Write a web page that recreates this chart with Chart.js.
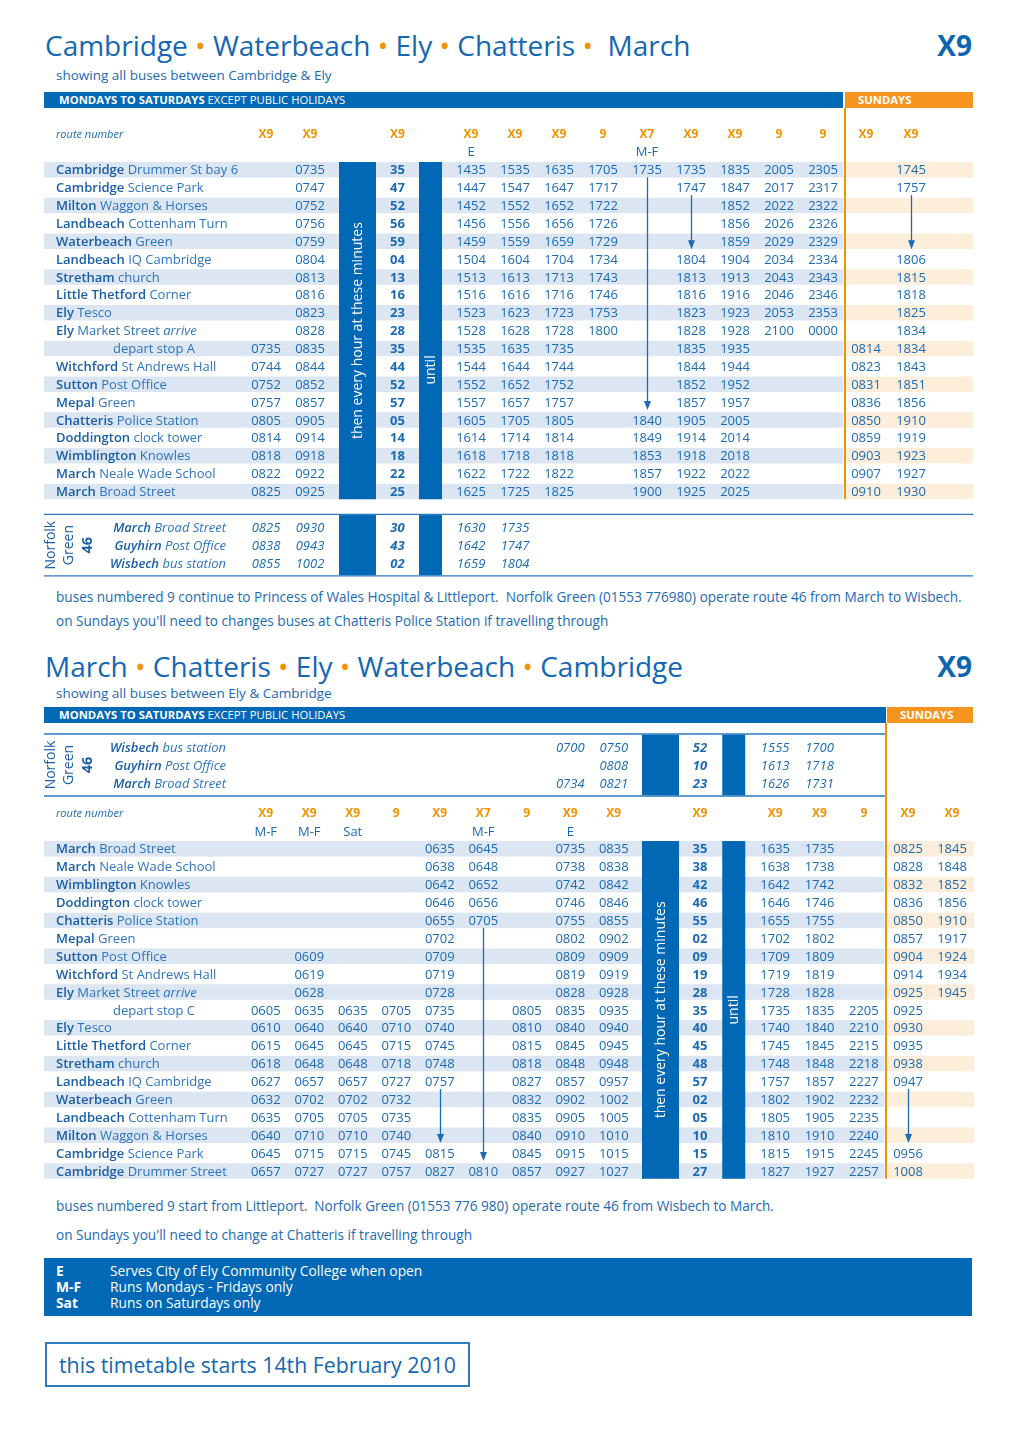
<!DOCTYPE html>
<html lang="en">
<head>
<meta charset="utf-8">
<title>X9 Cambridge – Waterbeach – Ely – Chatteris – March</title>
<script src="https://cdn.jsdelivr.net/npm/chart.js@4.4.1/dist/chart.umd.min.js"></script>
<style>
  html, body { margin:0; padding:0; background:#fff; }
  body { position:relative; width:1020px; height:1442px; overflow:hidden; font-family:"Open Sans", sans-serif; color:#1b6ab4; }
  .t { position:absolute; white-space:nowrap; line-height:1; }
  .title { font-size:28px; left:45px; color:#1467b2; }
  .dot { color:#f39200; }
  .rt { font-size:28px; font-weight:700; right:48px; color:#0d64b0; }
  .sub { font-size:13.5px; left:56px; }
  .band { position:absolute; height:16px; line-height:16px; font-size:11.3px; color:#fff; white-space:nowrap; box-sizing:border-box; }
  .mon { background:#0068b4; left:44px; padding-left:15px; }
  .mon b { font-weight:700; }
  .sunb { background:#f7941d; font-weight:700; padding-left:13px; }
  .fn { font-size:13.6px; left:56px; }
  canvas { position:absolute; left:0; }
  .legend { position:absolute; left:44px; top:1258px; width:928px; height:58px; background:#0068b4; color:#fff; font-size:13.8px; }
  .legend div { position:absolute; white-space:nowrap; line-height:1; }
  .legend .k { font-weight:700; left:12px; }
  .legend .v { left:66px; }
  .date { position:absolute; left:45px; top:1342px; width:425px; height:45px; box-sizing:border-box; border:2px solid #2f7cc2; }
  .datet { font-size:21.3px; left:59px; color:#1467b2; }
</style>
</head>
<body>

<div class="t title" style="top:31px">Cambridge <span class="dot">•</span> Waterbeach <span class="dot">•</span> Ely <span class="dot">•</span> Chatteris <span class="dot">•</span>&nbsp; March</div>
<div class="t rt" style="top:31px">X9</div>
<div class="t sub" style="top:68.5px">showing all buses between Cambridge &amp; Ely</div>
<div class="band mon" style="top:92px;width:799px"><b>MONDAYS TO SATURDAYS</b> EXCEPT PUBLIC HOLIDAYS</div>
<div class="band sunb" style="top:92px;left:845px;width:128px">SUNDAYS</div>
<canvas id="up" width="1020" height="472" style="top:108px;width:1020px;height:472px"></canvas>
<div class="t fn" style="top:589.9px">buses numbered 9 continue to Princess of Wales Hospital &amp; Littleport.&nbsp; Norfolk Green (01553 776980) operate route 46 from March to Wisbech.</div>
<div class="t fn" style="top:613.9px">on Sundays you'll need to changes buses at Chatteris Police Station if travelling through</div>

<div class="t title" style="top:652.1px">March <span class="dot">•</span> Chatteris <span class="dot">•</span> Ely <span class="dot">•</span> Waterbeach <span class="dot">•</span> Cambridge</div>
<div class="t rt" style="top:652.1px">X9</div>
<div class="t sub" style="top:686.5px">showing all buses between Ely &amp; Cambridge</div>
<div class="band mon" style="top:707px;width:842px"><b>MONDAYS TO SATURDAYS</b> EXCEPT PUBLIC HOLIDAYS</div>
<div class="band sunb" style="top:707px;left:887px;width:86px">SUNDAYS</div>
<canvas id="dnLink" width="1020" height="80" style="top:723px;width:1020px;height:80px"></canvas>
<canvas id="dn" width="1020" height="382" style="top:803px;width:1020px;height:382px"></canvas>
<div class="t fn" style="top:1198.9px">buses numbered 9 start from Littleport.&nbsp; Norfolk Green (01553 776 980) operate route 46 from Wisbech to March.</div>
<div class="t fn" style="top:1227.9px">on Sundays you'll need to change at Chatteris if travelling through</div>

<div class="legend">
  <div class="k" style="top:5.75px">E</div><div class="v" style="top:5.75px">Serves City of Ely Community College when open</div>
  <div class="k" style="top:22.45px">M-F</div><div class="v" style="top:22.45px">Runs Mondays - Fridays only</div>
  <div class="k" style="top:38.05px">Sat</div><div class="v" style="top:38.05px">Runs on Saturdays only</div>
</div>
<div class="date"></div>
<div class="t datet" style="top:1354.4px">this timetable starts 14th February 2010</div>

<script>
// ===================== DATA =====================
// --- Cambridge -> March (Mondays to Saturdays + Sundays) ---
const upRoutes = ['X9','X9','X9','X9','X9','X9','9','X7','X9','X9','9','9','X9','X9'];
const upNotes  = ['','','','E','','','','M-F','','','','','',''];
const upTowns  = ['Cambridge','Cambridge','Milton','Landbeach','Waterbeach','Landbeach','Stretham','Little Thetford','Ely','Ely','','Witchford','Sutton','Mepal','Chatteris','Doddington','Wimblington','March','March'];
const upPlaces = ['Drummer St bay 6','Science Park','Waggon & Horses','Cottenham Turn','Green','IQ Cambridge','church','Corner','Tesco','Market Street','depart stop A','St Andrews Hall','Post Office','Green','Police Station','clock tower','Knowles','Neale Wade School','Broad Street'];
const upSuffix = ['','','','','','','','','','arrive','','','','','','','','',''];
const upTimes = [
 ['','0735','35','1435','1535','1635','1705','1735','1735','1835','2005','2305','','1745'],
 ['','0747','47','1447','1547','1647','1717','','1747','1847','2017','2317','','1757'],
 ['','0752','52','1452','1552','1652','1722','','','1852','2022','2322','',''],
 ['','0756','56','1456','1556','1656','1726','','','1856','2026','2326','',''],
 ['','0759','59','1459','1559','1659','1729','','','1859','2029','2329','',''],
 ['','0804','04','1504','1604','1704','1734','','1804','1904','2034','2334','','1806'],
 ['','0813','13','1513','1613','1713','1743','','1813','1913','2043','2343','','1815'],
 ['','0816','16','1516','1616','1716','1746','','1816','1916','2046','2346','','1818'],
 ['','0823','23','1523','1623','1723','1753','','1823','1923','2053','2353','','1825'],
 ['','0828','28','1528','1628','1728','1800','','1828','1928','2100','0000','','1834'],
 ['0735','0835','35','1535','1635','1735','','','1835','1935','','','0814','1834'],
 ['0744','0844','44','1544','1644','1744','','','1844','1944','','','0823','1843'],
 ['0752','0852','52','1552','1652','1752','','','1852','1952','','','0831','1851'],
 ['0757','0857','57','1557','1657','1757','','','1857','1957','','','0836','1856'],
 ['0805','0905','05','1605','1705','1805','','1840','1905','2005','','','0850','1910'],
 ['0814','0914','14','1614','1714','1814','','1849','1914','2014','','','0859','1919'],
 ['0818','0918','18','1618','1718','1818','','1853','1918','2018','','','0903','1923'],
 ['0822','0922','22','1622','1722','1822','','1857','1922','2022','','','0907','1927'],
 ['0825','0925','25','1625','1725','1825','','1900','1925','2025','','','0910','1930']
];
// Norfolk Green route 46 connection, March -> Wisbech (columns 0..4 of the table above)
const upLinkTowns  = ['March','Guyhirn','Wisbech'];
const upLinkPlaces = ['Broad Street','Post Office','bus station'];
const upLinkCols   = [0,1,2,3,4];
const upLinkTimes  = [
 ['0825','0930','30','1630','1735'],
 ['0838','0943','43','1642','1747'],
 ['0855','1002','02','1659','1804']
];
// "runs through without stopping" arrows: [column, from stop, to stop]
const upArrows = [[7,0,14],[8,1,5],[13,1,5]];

// --- March -> Cambridge ---
const dnRoutes = ['X9','X9','X9','9','X9','X7','9','X9','X9','X9','X9','X9','9','X9','X9'];
const dnNotes  = ['M-F','M-F','Sat','','','M-F','','E','','','','','','',''];
const dnTowns  = ['March','March','Wimblington','Doddington','Chatteris','Mepal','Sutton','Witchford','Ely','','Ely','Little Thetford','Stretham','Landbeach','Waterbeach','Landbeach','Milton','Cambridge','Cambridge'];
const dnPlaces = ['Broad Street','Neale Wade School','Knowles','clock tower','Police Station','Green','Post Office','St Andrews Hall','Market Street','depart stop C','Tesco','Corner','church','IQ Cambridge','Green','Cottenham Turn','Waggon & Horses','Science Park','Drummer Street'];
const dnSuffix = ['','','','','','','','','arrive','','','','','','','','','',''];
const dnTimes = [
 ['','','','','0635','0645','','0735','0835','35','1635','1735','','0825','1845'],
 ['','','','','0638','0648','','0738','0838','38','1638','1738','','0828','1848'],
 ['','','','','0642','0652','','0742','0842','42','1642','1742','','0832','1852'],
 ['','','','','0646','0656','','0746','0846','46','1646','1746','','0836','1856'],
 ['','','','','0655','0705','','0755','0855','55','1655','1755','','0850','1910'],
 ['','','','','0702','','','0802','0902','02','1702','1802','','0857','1917'],
 ['','0609','','','0709','','','0809','0909','09','1709','1809','','0904','1924'],
 ['','0619','','','0719','','','0819','0919','19','1719','1819','','0914','1934'],
 ['','0628','','','0728','','','0828','0928','28','1728','1828','','0925','1945'],
 ['0605','0635','0635','0705','0735','','0805','0835','0935','35','1735','1835','2205','0925',''],
 ['0610','0640','0640','0710','0740','','0810','0840','0940','40','1740','1840','2210','0930',''],
 ['0615','0645','0645','0715','0745','','0815','0845','0945','45','1745','1845','2215','0935',''],
 ['0618','0648','0648','0718','0748','','0818','0848','0948','48','1748','1848','2218','0938',''],
 ['0627','0657','0657','0727','0757','','0827','0857','0957','57','1757','1857','2227','0947',''],
 ['0632','0702','0702','0732','','','0832','0902','1002','02','1802','1902','2232','',''],
 ['0635','0705','0705','0735','','','0835','0905','1005','05','1805','1905','2235','',''],
 ['0640','0710','0710','0740','','','0840','0910','1010','10','1810','1910','2240','',''],
 ['0645','0715','0715','0745','0815','','0845','0915','1015','15','1815','1915','2245','0956',''],
 ['0657','0727','0727','0757','0827','0810','0857','0927','1027','27','1827','1927','2257','1008','']
];
const dnLinkTowns  = ['Wisbech','Guyhirn','March'];
const dnLinkPlaces = ['bus station','Post Office','Broad Street'];
const dnLinkCols   = [7,8,9,10,11];
const dnLinkTimes  = [
 ['0700','0750','52','1555','1700'],
 ['','0808','10','1613','1718'],
 ['0734','0821','23','1626','1731']
];
const dnArrows = [[4,13,17],[5,4,18],[13,13,17]];

const barText1 = 'then every hour at these minutes';
const barText2 = 'until';
const routeLabel = 'route number';
const operatorLabel = ['Norfolk','Green','46'];

// ===================== LAYOUT / STYLE =====================
const BLUE = '#0068b4', INK = '#1b6ab4', TOWN = '#1a5fa6', PLACE = '#2c74bd', ORANGE = '#f39200';
const STRIPE = '#dce5f2', SUNSTRIPE = '#fdeedc';
const FONT = '"Open Sans", sans-serif';
// column grids: [kind, width]  ('t' = time column, 'bar' = blue "every hour" bar)
const T44 = Array(9).fill(['t',44]);
const upGrid = [['name',200],['t',44],['t',44],['bar',51],['t',29],['bar',37], ...T44, ['t',42],['t',48],['pad',38]];
const dnGrid = [['name',200], ...Array(9).fill(['t',43.5]), ['bar',50],['t',29],['bar',38.5],['t',44.33],['t',44.33],['t',44.34],['t',44],['t',44]];

function makeTable(canvasId, spec) {
  let acc = 0;
  const slots = spec.grid.map(([kind, w]) => { const s = {kind, left: acc, w, c: acc + w / 2}; acc += w; return s; });
  const total = acc;
  const timeSlots = slots.filter(s => s.kind === 't');
  const barSlots = slots.filter(s => s.kind === 'bar');
  const rows = spec.rows;
  const stopRows = [], linkRows = [];
  rows.forEach((r, ri) => { if (r.k === 'stop') stopRows.push(ri); if (r.k === 'link') linkRows.push(ri); });
  const routeRow = rows.findIndex(r => r.k === 'route');

  const datasets = timeSlots.map((slot, c) => {
    const isMin = c === spec.minCol;
    const pts = [];
    rows.forEach((r, ri) => {
      let t = '', st = '';
      if (r.k === 'route') { t = spec.routes[c]; st = 'route'; }
      else if (r.k === 'note') { t = spec.notes[c]; st = 'note'; }
      else if (r.k === 'stop') { t = spec.times[r.i][c]; st = isMin ? 'min' : 'time'; }
      else if (r.k === 'link') { const j = spec.link.cols.indexOf(c); if (j >= 0) t = spec.link.times[r.i][j]; st = isMin ? 'lmin' : 'ltime'; }
      if (t) pts.push({x: slot.c, y: ri, t, st});
    });
    return {label: 'column ' + (c + 1), data: pts, pointRadius: 0, pointHoverRadius: 0, borderWidth: 0};
  });

  const styles = {
    route: ['700 12px ' + FONT, ORANGE],
    note:  ['13px ' + FONT, INK],
    time:  ['13px ' + FONT, INK],
    min:   ['700 13px ' + FONT, INK],
    ltime: ['italic 13px ' + FONT, INK],
    lmin:  ['italic 700 13px ' + FONT, INK]
  };

  const plugin = {
    id: 'timetable_' + canvasId,
    beforeDatasetsDraw(chart) {
      const ctx = chart.ctx, xs = chart.scales.x, ys = chart.scales.y, A = chart.chartArea;
      const rowH = Math.abs(ys.getPixelForValue(1) - ys.getPixelForValue(0));
      const sH = rowH - 2.4;
      const L = A.left, R = A.right;
      const sunX = xs.getPixelForValue(timeSlots[spec.sunCol].left);
      ctx.save();
      stopRows.forEach(ri => {
        if (rows[ri].i % 2) return;
        const y = ys.getPixelForValue(ri);
        ctx.fillStyle = STRIPE; ctx.fillRect(L, y - sH / 2, sunX - 1.5 - L, sH);
        ctx.fillStyle = SUNSTRIPE; ctx.fillRect(sunX + 1.5, y - sH / 2, R - sunX - 1.5, sH);
      });
      let lt = 0, lb = 0;
      if (linkRows.length) {
        lt = ys.getPixelForValue(linkRows[0]) - 0.72 * rowH;
        lb = ys.getPixelForValue(linkRows[linkRows.length - 1]) + 0.72 * rowH;
        const lr = spec.linkFull ? R : sunX - 1;
        ctx.strokeStyle = '#2a78c0'; ctx.lineWidth = 1.4;
        [lt, lb].forEach(y => { ctx.beginPath(); ctx.moveTo(L, y); ctx.lineTo(lr, y); ctx.stroke(); });
      }
      const spans = [];
      let stopTop = 0, stopBot = 0;
      if (stopRows.length) {
        stopTop = ys.getPixelForValue(stopRows[0]) - sH / 2;
        stopBot = ys.getPixelForValue(stopRows[stopRows.length - 1]) + sH / 2;
        spans.push([stopTop, stopBot]);
      }
      if (linkRows.length) spans.push([lt + 0.7, lb - 0.7]);
      ctx.fillStyle = BLUE;
      barSlots.forEach((b, bi) => {
        const cx = xs.getPixelForValue(b.c), w = spec.barW[bi];
        spans.forEach(([a, z]) => ctx.fillRect(cx - w / 2, a, w, z - a));
      });
      const oBot = (stopRows.length && !spec.orangeFull) ? stopBot : chart.height;
      ctx.fillStyle = ORANGE; ctx.fillRect(sunX - 1, 0, 2, oBot);
      // rotated texts in the bars
      ctx.fillStyle = '#fff'; ctx.textAlign = 'center'; ctx.textBaseline = 'middle';
      if (stopRows.length) {
        const b1 = xs.getPixelForValue(barSlots[0].c), b2 = xs.getPixelForValue(barSlots[1].c);
        ctx.font = '14px ' + FONT;
        ctx.save(); ctx.translate(b1 + 0.5, (stopTop + stopBot) / 2); ctx.rotate(-Math.PI / 2); ctx.fillText(barText1, 0, 0); ctx.restore();
        ctx.save(); ctx.translate(b2 + 0.5, ys.getPixelForValue(stopRows[0] + spec.untilRow)); ctx.rotate(-Math.PI / 2); ctx.fillText(barText2, 0, 0); ctx.restore();
      }
      // arrows
      ctx.strokeStyle = INK; ctx.fillStyle = INK; ctx.lineWidth = 1.3;
      (spec.arrows || []).forEach(([c, f, t]) => {
        const x = Math.round(xs.getPixelForValue(timeSlots[c].c)) + 0.5;
        const y1 = ys.getPixelForValue(stopRows[f]) + 7.5;
        const y2 = ys.getPixelForValue(stopRows[t]) - 10;
        ctx.beginPath(); ctx.moveTo(x, y1); ctx.lineTo(x, y2 - 7); ctx.stroke();
        ctx.beginPath(); ctx.moveTo(x - 3.5, y2 - 9); ctx.lineTo(x + 3.5, y2 - 9); ctx.lineTo(x, y2); ctx.closePath(); ctx.fill();
      });
      ctx.restore();
    },
    afterDatasetsDraw(chart) {
      const ctx = chart.ctx, ys = chart.scales.y, A = chart.chartArea, L = A.left;
      ctx.save();
      ctx.textBaseline = 'alphabetic';
      // cell texts, at the positions the scales gave the points
      chart.data.datasets.forEach((ds, di) => {
        const meta = chart.getDatasetMeta(di);
        meta.data.forEach((el, j) => {
          const p = ds.data[j], [font, color] = styles[p.st];
          ctx.font = font; ctx.fillStyle = color; ctx.textAlign = 'center';
          const off = p.st === 'route' ? 4.3 : 4.6;
          ctx.fillText(p.t, el.x, el.y + off);
        });
      });
      ctx.textAlign = 'left';
      if (routeRow >= 0) {
        ctx.font = 'italic 11px ' + FONT; ctx.fillStyle = INK;
        ctx.fillText(routeLabel, L + 12, ys.getPixelForValue(routeRow) + 3.5);
      }
      stopRows.forEach(ri => {
        const i = rows[ri].i, y = ys.getPixelForValue(ri) + 4.6;
        const town = spec.stops.towns[i], place = spec.stops.places[i], suf = spec.stops.suffix[i];
        let x = town ? L + 12 : L + 69;
        if (town) {
          ctx.font = '600 13px ' + FONT; ctx.fillStyle = TOWN; ctx.fillText(town, x, y);
          x += ctx.measureText(town).width; ctx.font = '13px ' + FONT; x += ctx.measureText(' ').width;
        }
        ctx.font = '13px ' + FONT; ctx.fillStyle = PLACE; ctx.fillText(place, x, y);
        if (suf) { x += ctx.measureText(place + ' ').width; ctx.font = 'italic 13px ' + FONT; ctx.fillText(suf, x, y); }
      });
      if (linkRows.length) {
        const xr = L + 182;
        linkRows.forEach(ri => {
          const i = rows[ri].i, y = ys.getPixelForValue(ri) + 4.6;
          ctx.textAlign = 'right';
          ctx.font = 'italic 13px ' + FONT; ctx.fillStyle = PLACE; ctx.fillText(spec.link.places[i], xr, y);
          const w = ctx.measureText(' ' + spec.link.places[i]).width;
          ctx.font = 'italic 600 13px ' + FONT; ctx.fillStyle = TOWN; ctx.fillText(spec.link.towns[i], xr - w, y);
        });
        const yc = ys.getPixelForValue(linkRows[1]);
        ctx.textAlign = 'center'; ctx.textBaseline = 'middle'; ctx.fillStyle = TOWN;
        [[operatorLabel[0], 7, '14px '], [operatorLabel[1], 25, '14px '], [operatorLabel[2], 44, '700 14.5px ']].forEach(([s, dx, f]) => {
          ctx.save(); ctx.translate(L + dx, yc); ctx.rotate(-Math.PI / 2); ctx.font = f + FONT; ctx.fillText(s, 0, 0); ctx.restore();
        });
      }
      ctx.restore();
    }
  };

  return new Chart(document.getElementById(canvasId), {
    type: 'scatter',
    data: {datasets},
    options: {
      responsive: false, animation: false, events: [],
      layout: {padding: {left: 44, right: 1020 - 44 - total, top: spec.padTop, bottom: spec.padBottom}},
      plugins: {legend: {display: false}, tooltip: {enabled: false}},
      scales: {
        x: {type: 'linear', min: 0, max: total, display: false},
        y: {type: 'linear', reverse: true, min: -0.5, max: rows.length - 0.5, display: false}
      }
    },
    plugins: [plugin]
  });
}

const stopRowsOf = n => Array.from({length: n}, (_, i) => ({k: 'stop', i}));
const linkRowsOf = n => Array.from({length: n}, (_, i) => ({k: 'link', i}));

makeTable('up', {
  grid: upGrid, routes: upRoutes, notes: upNotes, times: upTimes,
  stops: {towns: upTowns, places: upPlaces, suffix: upSuffix},
  link: {towns: upLinkTowns, places: upLinkPlaces, cols: upLinkCols, times: upLinkTimes},
  rows: [{k: 'route'}, {k: 'note'}, ...stopRowsOf(upTimes.length), {k: 'gap'}, ...linkRowsOf(upLinkTimes.length)],
  arrows: upArrows, minCol: 2, sunCol: 12, barW: [37, 23], untilRow: 11.2, linkFull: true,
  padTop: 17.0625, padBottom: 8.0625
});
makeTable('dnLink', {
  grid: dnGrid, routes: dnRoutes, notes: dnNotes, times: dnTimes,
  stops: {towns: dnTowns, places: dnPlaces, suffix: dnSuffix},
  link: {towns: dnLinkTowns, places: dnLinkPlaces, cols: dnLinkCols, times: dnLinkTimes},
  rows: linkRowsOf(dnLinkTimes.length),
  minCol: 9, sunCol: 13, barW: [37, 23], linkFull: false, orangeFull: true,
  padTop: 15, padBottom: 11
});
makeTable('dn', {
  grid: dnGrid, routes: dnRoutes, notes: dnNotes, times: dnTimes,
  stops: {towns: dnTowns, places: dnPlaces, suffix: dnSuffix},
  link: {towns: [], places: [], cols: [], times: []},
  rows: [{k: 'route'}, {k: 'note'}, ...stopRowsOf(dnTimes.length)],
  arrows: dnArrows, minCol: 9, sunCol: 13, barW: [37, 23], untilRow: 9,
  padTop: 1.05, padBottom: 5.05
});
</script>
</body>
</html>
